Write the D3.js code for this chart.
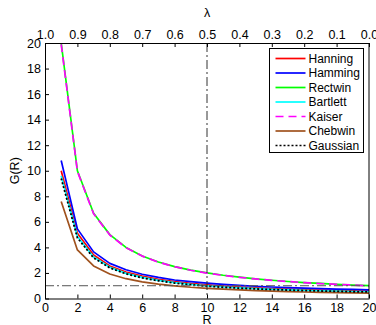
<!DOCTYPE html>
<html>
<head>
<meta charset="utf-8">
<script src="https://cdn.jsdelivr.net/npm/d3@7/dist/d3.min.js"></script>
<style>
  html, body { margin: 0; padding: 0; background: #fff; }
  svg { display: block; font-family: "Liberation Sans", Arial, Helvetica, sans-serif; }
</style>
</head>
<body>
<svg id="chart" width="376" height="325"></svg>
<script>
// Window gain G(R) versus decimation ratio R for several window functions
const R = [1, 2, 3, 4, 5, 6, 7, 8, 9, 10, 11, 12, 13, 14, 15, 16, 17, 18, 19, 20];

const hanning  = [10.0, 5.1, 3.4, 2.55, 2.07, 1.75, 1.5, 1.33, 1.18, 1.07, 0.98, 0.9, 0.84, 0.78, 0.74, 0.7, 0.66, 0.63, 0.6, 0.58];
const hamming  = [10.8, 5.45, 3.65, 2.75, 2.25, 1.9, 1.65, 1.45, 1.32, 1.2, 1.1, 1.02, 0.96, 0.9, 0.85, 0.81, 0.77, 0.74, 0.71, 0.68];
const rectwin  = [20.0, 10.0, 6.67, 5.0, 4.0, 3.33, 2.86, 2.5, 2.22, 2.0, 1.82, 1.67, 1.54, 1.43, 1.33, 1.25, 1.18, 1.11, 1.05, 1.0];
const bartlett = [9.6, 4.85, 3.25, 2.45, 1.97, 1.65, 1.42, 1.24, 1.1, 0.99, 0.9, 0.83, 0.77, 0.72, 0.67, 0.63, 0.6, 0.57, 0.54, 0.52];
const kaiser   = [19.9, 9.95, 6.63, 4.97, 3.98, 3.32, 2.84, 2.49, 2.21, 1.99, 1.81, 1.66, 1.53, 1.42, 1.33, 1.24, 1.17, 1.11, 1.05, 0.99];
const chebwin  = [7.6, 3.8, 2.55, 1.92, 1.55, 1.3, 1.12, 0.99, 0.88, 0.8, 0.73, 0.67, 0.62, 0.58, 0.54, 0.51, 0.48, 0.46, 0.44, 0.42];
const gaussian = [9.4, 4.75, 3.18, 2.4, 1.93, 1.61, 1.39, 1.21, 1.08, 0.97, 0.88, 0.81, 0.75, 0.7, 0.66, 0.62, 0.59, 0.56, 0.53, 0.51];

const seriesNames = ["Hanning", "Hamming", "Rectwin", "Bartlett", "Kaiser", "Chebwin", "Gaussian"];
const seriesValues = [hanning, hamming, rectwin, bartlett, kaiser, chebwin, gaussian];
const seriesColors = ["#ff0000", "#0000ff", "#00ff00", "#00ffff", "#ff00ff", "#a0521e", "#000000"];
const seriesDash = [null, null, null, null, "8,5", null, "2,2"];

const xTicks = [0, 2, 4, 6, 8, 10, 12, 14, 16, 18, 20];
const yTicks = [0, 2, 4, 6, 8, 10, 12, 14, 16, 18, 20];
const lambdaTicks = [1.0, 0.9, 0.8, 0.7, 0.6, 0.5, 0.4, 0.3, 0.2, 0.1, 0.0];
const refR = 10;   // vertical reference at R = 10 (lambda = 0.5)
const refG = 1;    // horizontal reference at G = 1

const svg = d3.select("#chart");
const m = { left: 45, right: 369, top: 43, bottom: 298.5 };

const x = d3.scaleLinear().domain([0, 20]).range([m.left, m.right]);
const y = d3.scaleLinear().domain([0, 20]).range([m.bottom, m.top]);
const lam = d3.scaleLinear().domain([1, 0]).range([m.left, m.right]);

svg.append("clipPath").attr("id", "plotclip")
  .append("rect").attr("x", m.left).attr("y", m.top - 2)
  .attr("width", m.right - m.left).attr("height", m.bottom - m.top + 2);

const plot = svg.append("g").attr("clip-path", "url(#plotclip)");

// curves
const line = d3.line().x((d, i) => x(R[i])).y(d => y(d));
seriesValues.forEach((vals, k) => {
  plot.append("path")
    .datum(vals)
    .attr("d", line)
    .attr("fill", "none")
    .attr("stroke", seriesColors[k])
    .attr("stroke-width", k === 6 ? 1.8 : 1.7)
    .attr("stroke-dasharray", seriesDash[k])
    .attr("stroke-linejoin", "round");
});

// reference lines (dash-dot)
plot.append("line")
  .attr("x1", x(0)).attr("x2", x(20)).attr("y1", y(refG)).attr("y2", y(refG))
  .attr("stroke", "#555").attr("stroke-width", 1).attr("stroke-dasharray", "9,3,2,3");
plot.append("line")
  .attr("x1", x(refR)).attr("x2", x(refR)).attr("y1", y(20)).attr("y2", y(0))
  .attr("stroke", "#333").attr("stroke-width", 1).attr("stroke-dasharray", "9,3,2,3");

// axes with inward ticks
const fontSize = "12.5px";
const bottomAxis = d3.axisBottom(x).tickValues(xTicks).tickFormat(d3.format("d")).tickSizeInner(-4).tickSizeOuter(0).tickPadding(5);
const leftAxis = d3.axisLeft(y).tickValues(yTicks).tickFormat(d3.format("d")).tickSizeInner(-4).tickSizeOuter(0).tickPadding(4);
const topAxis = d3.axisTop(lam).tickValues(lambdaTicks).tickFormat(d3.format(".1f")).tickSizeInner(-4).tickSizeOuter(0).tickPadding(4);

function styleAxis(g) {
  g.select(".domain").attr("stroke", "#000").attr("stroke-width", 1);
  g.selectAll(".tick line").attr("stroke", "#000");
  g.selectAll(".tick text").attr("fill", "#000").style("font-size", fontSize)
    .style("font-family", "'Liberation Sans', Arial, Helvetica, sans-serif");
}

svg.append("g").attr("transform", `translate(0,${m.bottom})`).call(bottomAxis).call(styleAxis);
svg.append("g").attr("transform", `translate(${m.left},0)`).call(leftAxis).call(styleAxis);
svg.append("g").attr("transform", `translate(0,${m.top})`).call(topAxis).call(styleAxis);
// right border
svg.append("line").attr("x1", m.right).attr("x2", m.right).attr("y1", m.top).attr("y2", m.bottom)
  .attr("stroke", "#000").attr("stroke-width", 1);

// axis titles
svg.append("text").attr("x", x(10)).attr("y", 324).attr("text-anchor", "middle")
  .style("font-size", fontSize).text("R");
svg.append("text").attr("x", lam(0.5)).attr("y", 17).attr("text-anchor", "middle")
  .style("font-size", fontSize).text("λ");
svg.append("text").attr("transform", `translate(19,${(m.top + m.bottom) / 2}) rotate(-90)`)
  .attr("text-anchor", "middle").style("font-size", fontSize).text("G(R)");

// legend
const lg = svg.append("g");
const lx = 269.5, ly = 48.5, lw = 94, lh = 104;
lg.append("rect").attr("x", lx).attr("y", ly).attr("width", lw).attr("height", lh)
  .attr("fill", "#fff").attr("stroke", "#000").attr("stroke-width", 1);
seriesNames.forEach((name, k) => {
  const yy = ly + 10 + k * 14.5;
  lg.append("line").attr("x1", lx + 6).attr("x2", lx + 36).attr("y1", yy).attr("y2", yy)
    .attr("stroke", seriesColors[k]).attr("stroke-width", k === 6 ? 1.6 : 1.7)
    .attr("stroke-dasharray", seriesDash[k]);
  lg.append("text").attr("x", lx + 39).attr("y", yy + 4.2)
    .style("font-size", "12px").text(name);
});
</script>
</body>
</html>
